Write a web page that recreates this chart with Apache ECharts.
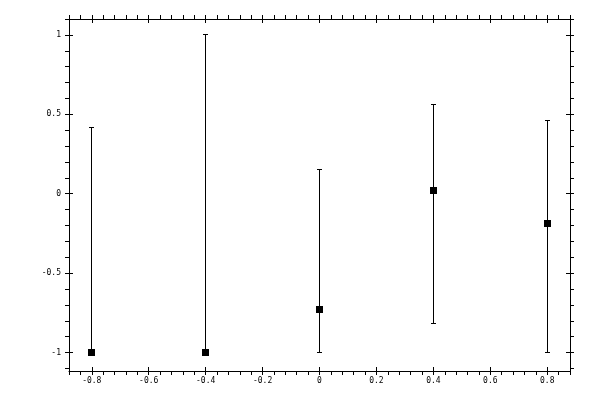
<!DOCTYPE html>
<html>
<head>
<meta charset="utf-8">
<script src="https://cdn.jsdelivr.net/npm/echarts@6/dist/echarts.min.js"></script>
<style>html,body{margin:0;padding:0;background:#fff}#c{width:600px;height:400px}</style>
</head>
<body>
<div id="c"></div>
<script>
// data
var xValues = [-0.8, -0.4, 0, 0.4, 0.8];
var yValues = [-1, -1, -0.727, 0.018, -0.19];
var yLow = [-1, -1, -1, -0.82, -1];
var yHigh = [0.42, 1.0, 0.15, 0.56, 0.46];
// ticks
var xMajorTicks = [-0.8, -0.6, -0.4, -0.2, 0, 0.2, 0.4, 0.6, 0.8];
var xTickLabels = ['-0.8', '-0.6', '-0.4', '-0.2', '0', '0.2', '0.4', '0.6', '0.8'];
var yMajorTicks = [-1, -0.5, 0, 0.5, 1];
var yTickLabels = ['-1', '-0.5', '0', '0.5', '1'];

var xMin = -0.88, xMax = 0.88, yMin = -1.116, yMax = 1.1;
var xMinor = [], yMinor = [];
for (var i = -22; i <= 22; i++) xMinor.push(+(i * 0.04).toFixed(2));
for (var j = -11; j <= 11; j++) yMinor.push(+(j * 0.1).toFixed(1));

var FONT = 'DejaVu Sans Mono';
var black = '#000';

function lab(list, labels) {
  return function (v) {
    for (var k = 0; k < list.length; k++) if (Math.abs(list[k] - v) < 1e-9) return labels[k];
    return '';
  };
}

function xAxis(pos, inside, ticks, showLabel, showLine) {
  return {
    type: 'value', position: pos, min: xMin, max: xMax, gridIndex: 0,
    axisLine: { show: showLine, onZero: false, lineStyle: { color: black, width: 1 } },
    axisTick: { show: true, inside: inside, length: 4, customValues: ticks, lineStyle: { color: black, width: 1 } },
    axisLabel: showLabel ? { show: true, customValues: xMajorTicks, formatter: lab(xMajorTicks, xTickLabels), color: black, fontFamily: FONT, fontSize: 8, margin: 6 } : { show: false },
    splitLine: { show: false }
  };
}
function yAxis(pos, inside, ticks, showLabel, showLine) {
  return {
    type: 'value', position: pos, min: yMin, max: yMax, gridIndex: 0,
    axisLine: { show: showLine, onZero: false, lineStyle: { color: black, width: 1 } },
    axisTick: { show: true, inside: inside, length: 4, customValues: ticks, lineStyle: { color: black, width: 1 } },
    axisLabel: showLabel ? { show: true, customValues: yMajorTicks, formatter: lab(yMajorTicks, yTickLabels), color: black, fontFamily: FONT, fontSize: 8, margin: 8 } : { show: false },
    splitLine: { show: false }
  };
}

function px(v) { return Math.round(v - 0.5); }

var chart = echarts.init(document.getElementById('c'), null, { renderer: 'canvas' });
chart.setOption({
  animation: false,
  backgroundColor: '#fff',
  grid: { left: 69, right: 30, top: 19, bottom: 29, containLabel: false },
  xAxis: [
    xAxis('bottom', false, xMinor, true, true),
    xAxis('bottom', true, xMajorTicks, false, false),
    xAxis('top', false, xMinor, false, true),
    xAxis('top', true, xMajorTicks, false, false)
  ],
  yAxis: [
    yAxis('left', false, yMinor, true, true),
    yAxis('left', true, yMajorTicks, false, false),
    yAxis('right', false, yMinor, false, true),
    yAxis('right', true, yMajorTicks, false, false)
  ],
  series: [
    {
      type: 'custom', xAxisIndex: 0, yAxisIndex: 0,
      data: xValues.map(function (x, k) { return [x, yLow[k], yHigh[k], yValues[k]]; }),
      renderItem: function (params, api) {
        var lo = api.coord([api.value(0), api.value(1)]);
        var hi = api.coord([api.value(0), api.value(2)]);
        var mid = api.coord([api.value(0), api.value(3)]);
        var cx = px(lo[0]);
        var x = cx + 0.5, y1 = px(hi[1]) + 0.5, y2 = px(lo[1]) + 0.5;
        var st = { stroke: black, lineWidth: 1, fill: null };
        var mx = cx - 3, my = px(mid[1]) - 3;
        return {
          type: 'group',
          children: [
            { type: 'line', shape: { x1: x, y1: y1, x2: x, y2: y2 }, style: st },
            { type: 'line', shape: { x1: cx - 2, y1: y1, x2: cx + 3, y2: y1 }, style: st },
            { type: 'line', shape: { x1: cx - 2, y1: y2, x2: cx + 3, y2: y2 }, style: st },
            { type: 'rect', shape: { x: mx, y: my, width: 7, height: 7 }, style: { fill: black, stroke: null } }
          ]
        };
      },
      z: 2
    }
  ]
});
</script>
</body>
</html>
